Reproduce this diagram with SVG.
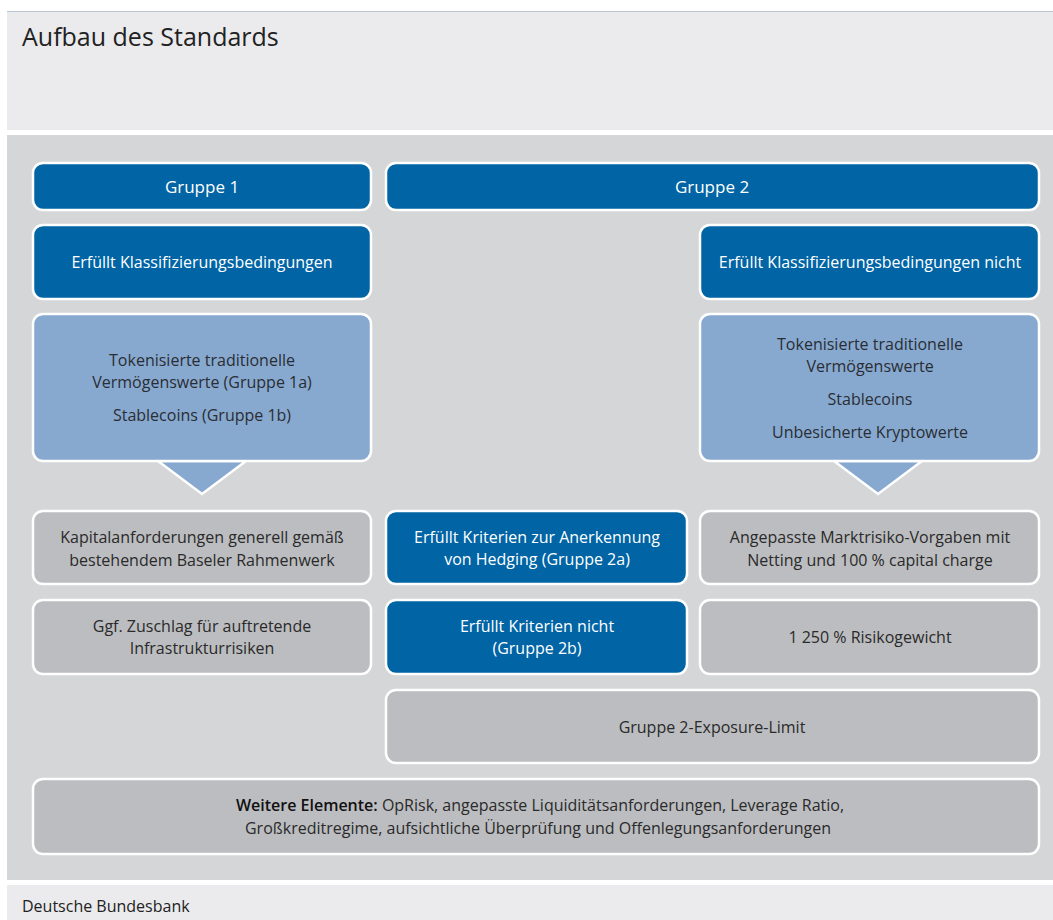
<svg xmlns="http://www.w3.org/2000/svg" width="1053" height="920" viewBox="0 0 1053 920">
  <style>
    text { font-family: "Open Sans", "Noto Sans", "Liberation Sans", sans-serif; font-size: 16px; text-anchor: middle; }
    .title { font-size: 25px; text-anchor: start; fill: #222; }
    .src { font-size: 16px; text-anchor: start; fill: #222; }
    .head { font-size: 17px; }
    .box { stroke: #ffffff; stroke-width: 2.5; }
    .dark { fill: #0064a5; }
    .light { fill: #87a9d0; }
    .grey { fill: #bcbdc0; }
    .wt { fill: #ffffff; }
    .bt { fill: #2a2d33; }
    .gt { fill: #2a2a2a; }
  </style>

  <!-- frame -->
  <rect x="7" y="11" width="1046" height="119" fill="#ebebed"/>
  <line x1="7" y1="11.5" x2="1053" y2="11.5" stroke="#bcc7d6" stroke-width="1"/>
  <rect x="7" y="135" width="1046" height="745" fill="#d5d6d8"/>
  <rect x="7" y="885" width="1046" height="35" fill="#ebebed"/>
  <text class="title" x="22" y="46">Aufbau des Standards</text>
  <text class="src" x="22" y="912">Deutsche Bundesbank</text>

  <!-- pointers from the asset boxes -->
  <g id="connectors">
    <polygon class="light" points="158,461 246,461 202,494" stroke="#ffffff" stroke-width="2.5"/>
    <polygon class="light" points="834,461 922,461 878,494" stroke="#ffffff" stroke-width="2.5"/>
  </g>

  <g id="gruppe1">
    <rect class="box dark" x="33" y="163" width="338" height="47" rx="10"/>
    <text class="wt head" x="202" y="193">Gruppe 1</text>
  </g>
  <g id="gruppe2">
    <rect class="box dark" x="386" y="163" width="653" height="47" rx="10"/>
    <text class="wt head" x="712" y="193">Gruppe 2</text>
  </g>

  <g id="klass-ja">
    <rect class="box dark" x="33" y="225" width="338" height="74" rx="10"/>
    <text class="wt" x="202" y="268">Erfüllt Klassifizierungsbedingungen</text>
  </g>
  <g id="klass-nein">
    <rect class="box dark" x="700" y="225" width="339" height="74" rx="10"/>
    <text class="wt" x="870" y="268">Erfüllt Klassifizierungsbedingungen nicht</text>
  </g>

  <g id="assets-g1">
    <rect class="box light" x="33" y="314" width="338" height="147" rx="10"/>
    <text class="bt" x="202" y="366">Tokenisierte traditionelle</text>
    <text class="bt" x="202" y="388">Vermögenswerte (Gruppe 1a)</text>
    <text class="bt" x="202" y="421">Stablecoins (Gruppe 1b)</text>
  </g>
  <g id="assets-g2">
    <rect class="box light" x="700" y="314" width="339" height="147" rx="10"/>
    <text class="bt" x="870" y="350">Tokenisierte traditionelle</text>
    <text class="bt" x="870" y="372">Vermögenswerte</text>
    <text class="bt" x="870" y="405">Stablecoins</text>
    <text class="bt" x="870" y="438">Unbesicherte Kryptowerte</text>
  </g>

  <g id="kapital">
    <rect class="box grey" x="33" y="511" width="338" height="73" rx="10"/>
    <text class="gt" x="202" y="543">Kapitalanforderungen generell gemäß</text>
    <text class="gt" x="202" y="566">bestehendem Baseler Rahmenwerk</text>
  </g>
  <g id="gruppe2a">
    <rect class="box dark" x="386" y="511" width="301" height="73" rx="10"/>
    <text class="wt" x="537" y="543">Erfüllt Kriterien zur Anerkennung</text>
    <text class="wt" x="537" y="565">von Hedging (Gruppe 2a)</text>
  </g>
  <g id="marktrisiko">
    <rect class="box grey" x="700" y="511" width="339" height="73" rx="10"/>
    <text class="gt" x="870" y="543">Angepasste Marktrisiko-Vorgaben mit</text>
    <text class="gt" x="870" y="566">Netting und 100 % capital charge</text>
  </g>

  <g id="zuschlag">
    <rect class="box grey" x="33" y="600" width="338" height="74" rx="10"/>
    <text class="gt" x="202" y="632">Ggf. Zuschlag für auftretende</text>
    <text class="gt" x="202" y="654">Infrastrukturrisiken</text>
  </g>
  <g id="gruppe2b">
    <rect class="box dark" x="386" y="600" width="301" height="74" rx="10"/>
    <text class="wt" x="537" y="632">Erfüllt Kriterien nicht</text>
    <text class="wt" x="537" y="654">(Gruppe 2b)</text>
  </g>
  <g id="risikogewicht">
    <rect class="box grey" x="700" y="600" width="339" height="74" rx="10"/>
    <text class="gt" x="870" y="643">1 250 % Risikogewicht</text>
  </g>

  <g id="exposure-limit">
    <rect class="box grey" x="386" y="690" width="653" height="73" rx="10"/>
    <text class="gt" x="712" y="733">Gruppe 2-Exposure-Limit</text>
  </g>

  <g id="weitere">
    <rect class="box grey" x="33" y="779" width="1006" height="75" rx="10"/>
    <text class="gt" x="540" y="811"><tspan font-weight="600" fill="#111">Weitere Elemente:</tspan> OpRisk, angepasste Liquiditätsanforderungen, Leverage Ratio,</text>
    <text class="gt" x="538" y="834">Großkreditregime, aufsichtliche Überprüfung und Offenlegungsanforderungen</text>
  </g>
</svg>
